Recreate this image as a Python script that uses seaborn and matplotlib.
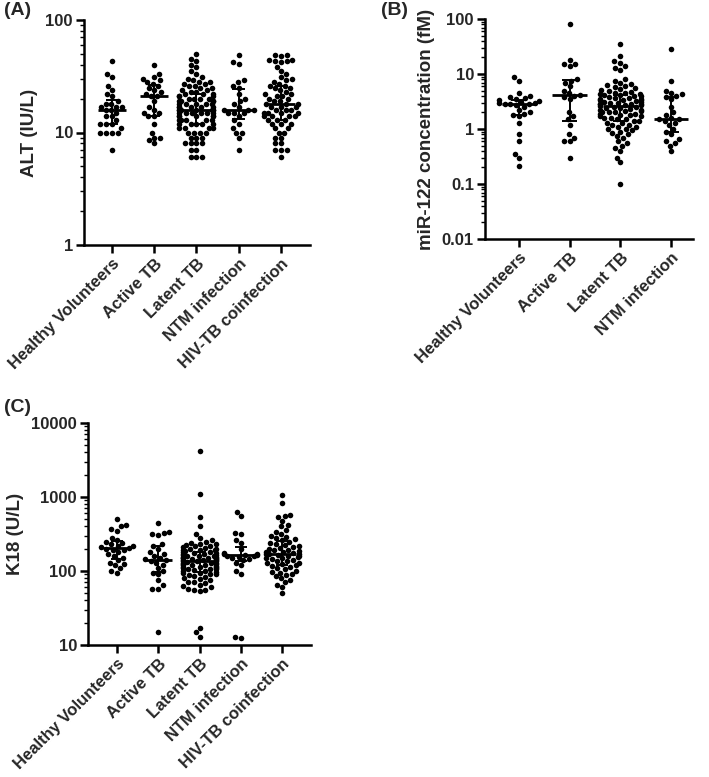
import numpy as np
import pandas as pd
import matplotlib
matplotlib.use("Agg")
import matplotlib.pyplot as plt
import matplotlib.ticker as mticker
import seaborn as sns

sns.set_style("ticks")
plt.rcParams['font.family'] = ['Liberation Sans', 'DejaVu Sans']
plt.rcParams['font.weight'] = 'bold'

groups5 = ["Healthy Volunteers", "Active TB", "Latent TB", "NTM infection", "HIV-TB coinfection"]
groups4 = groups5[:4]

# ---- Panel A: ALT (IU/L)
alt_hv = [43, 33, 31, 26, 24, 22, 21, 19, 18, 18, 17, 17, 17, 16, 16, 15, 14, 14, 13, 12, 12, 12, 11, 10, 10, 10, 10, 7]
alt_active = [40, 33, 31, 30, 29, 28, 27, 26, 25, 24, 23, 22, 21, 21, 19, 17, 16, 15, 15, 14, 14, 12, 10, 9, 9, 8.5, 8]
alt_latent = [50, 45, 43, 40, 38, 35, 33, 31, 30, 29, 28, 28, 27, 27, 26, 26, 25, 25, 24, 24, 23, 23, 22, 22, 22,
              21, 21, 21, 20, 20, 20, 20, 19, 19, 19, 19, 18, 18, 18, 18, 18, 17, 17, 17, 17, 17, 16, 16, 16, 16,
              16, 16, 16, 15, 15, 15, 15, 15, 15, 14, 14, 14, 14, 14, 13, 13, 13, 13, 13, 12, 12, 12, 12, 12, 11,
              11, 11, 11, 10, 10, 10, 10, 9, 9, 9, 8, 8, 8, 8, 7, 7, 6, 6, 6]
alt_ntm = [49, 42, 41, 29, 28, 26, 25, 22, 20, 19, 18, 17, 16, 16, 16, 15, 15, 15, 14, 13, 12, 11, 10, 10, 9, 7]
alt_hiv = [49, 49, 48, 44, 44, 43, 43, 42, 38, 35, 33, 31, 30, 29, 28, 27, 26, 26, 25, 25, 24, 23, 22, 22, 21, 21,
           20, 20, 19, 19, 18, 18, 18, 17, 17, 17, 16, 16, 16, 15, 15, 15, 15, 14, 14, 14, 14, 13, 13, 13, 12, 12,
           12, 11, 11, 10, 10, 9, 9, 8, 8, 7, 7, 7, 6]

# ---- Panel B: miR-122 (fM)
mir_hv = [8.7, 7.5, 4.5, 4.0, 3.8, 3.7, 3.5, 3.3, 3.2, 3.1, 3.0, 3.0, 2.9, 2.8, 2.8, 2.7, 2.5, 2.2, 2.0, 1.9, 1.8,
          1.7, 1.3, 0.8, 0.6, 0.35, 0.3, 0.21]
mir_active = [80, 18, 15, 15, 14, 8, 7.5, 7, 6, 5, 4.5, 4.2, 4, 3.8, 3.5, 2, 1.7, 1.5, 1.2, 0.8, 0.7, 0.6, 0.6, 0.3]
mir_latent = [35, 21, 17, 16, 14, 13, 12, 8, 7.5, 7, 6.5, 6.2, 6, 5.8, 5.5, 5.3, 5.1, 5, 4.8, 4.6, 4.5, 4.4, 4.3,
              4.2, 4.1, 4, 3.9, 3.8, 3.7, 3.6, 3.5, 3.5, 3.4, 3.3, 3.3, 3.2, 3.1, 3.1, 3, 3, 2.9, 2.9, 2.8, 2.8,
              2.7, 2.7, 2.6, 2.5, 2.5, 2.4, 2.4, 2.3, 2.2, 2.2, 2.1, 2.1, 2, 2, 2, 1.9, 1.9, 1.8, 1.8, 1.7, 1.7,
              1.6, 1.6, 1.5, 1.5, 1.4, 1.4, 1.3, 1.3, 1.2, 1.2, 1.1, 1.1, 1.0, 1.0, 0.95, 0.9, 0.85, 0.8, 0.75,
              0.7, 0.6, 0.55, 0.5, 0.45, 0.4, 0.3, 0.25, 0.1]
mir_ntm = [28, 7.5, 5, 4.5, 4.3, 4, 3.8, 3.5, 2.5, 2, 1.8, 1.6, 1.5, 1.5, 1.4, 1.3, 1.2, 1.0, 0.9, 0.8, 0.65, 0.6,
           0.55, 0.5, 0.4]

# ---- Panel C: K18 (U/L)
k18_hv = [500, 420, 400, 370, 350, 280, 260, 250, 240, 230, 220, 215, 210, 205, 200, 195, 190, 180, 170, 160, 150,
          140, 130, 125, 120, 110, 100, 95]
k18_active = [440, 340, 330, 320, 310, 230, 220, 200, 180, 170, 160, 150, 145, 140, 135, 130, 120, 110, 100, 95,
              90, 75, 65, 58, 58, 15]
k18_latent = [4200, 1100, 530, 400, 320, 280, 260, 250, 240, 235, 230, 225, 220, 215, 210, 205, 200, 200, 195,
              190, 190, 185, 180, 180, 175, 175, 170, 170, 165, 165, 160, 160, 158, 155, 155, 152, 150, 150, 148,
              145, 145, 142, 140, 140, 138, 135, 135, 132, 130, 130, 128, 125, 125, 122, 120, 120, 118, 115, 115,
              112, 110, 110, 108, 105, 105, 102, 100, 100, 98, 95, 95, 92, 90, 88, 85, 82, 80, 78, 75, 72, 70,
              68, 65, 62, 60, 58, 56, 55, 54, 17, 15, 13]
k18_ntm = [620, 550, 330, 320, 260, 240, 200, 175, 170, 170, 165, 165, 160, 160, 155, 150, 145, 140, 130, 120,
           100, 92, 13, 12.5]
k18_hiv = [1050, 830, 580, 560, 540, 480, 420, 400, 360, 340, 320, 300, 290, 280, 270, 260, 250, 240, 230, 225,
           220, 210, 205, 200, 195, 190, 185, 180, 178, 175, 172, 170, 168, 165, 160, 158, 155, 150, 148, 145, 140,
           138, 135, 130, 128, 125, 120, 118, 115, 110, 105, 100, 98, 95, 90, 88, 85, 80, 75, 70, 65, 60, 50]


def make_df(groups, series):
    rows = []
    for g, vals in zip(groups, series):
        for v in vals:
            rows.append((g, v))
    return pd.DataFrame(rows, columns=["group", "value"])


def panel(fig, rect, groups, series, ylabel, yticks, ylim, xlim, letter, letter_pos):
    ax = fig.add_axes(rect)
    df = make_df(groups, series)
    sns.swarmplot(data=df, x="group", y="value", order=groups, ax=ax, color="black",
                  size=4.0, log_scale=True, linewidth=0)
    for i, vals in enumerate(series):
        q1, med, q3 = np.percentile(vals, [25, 50, 75])
        ax.hlines(med, i - 0.34, i + 0.34, color="black", lw=2.0, zorder=5)
        ax.vlines(i, q1, q3, color="black", lw=1.4, zorder=5)
        ax.hlines([q1, q3], i - 0.15, i + 0.15, color="black", lw=1.4, zorder=5)
    ax.set_yscale("log")
    ax.set_ylim(*ylim)
    ax.set_xlim(*xlim)
    ax.yaxis.set_major_locator(mticker.FixedLocator(yticks))
    ax.yaxis.set_major_formatter(mticker.FixedFormatter([("%g" % t) for t in yticks]))
    ax.yaxis.set_minor_locator(mticker.LogLocator(base=10, subs=np.arange(2, 10)))
    ax.yaxis.set_minor_formatter(mticker.NullFormatter())
    ax.set_xlabel("")
    ax.set_ylabel(ylabel, fontsize=13.5, fontweight="bold", labelpad=5)
    ax.set_xticks(range(len(groups)))
    ax.set_xticklabels(groups, rotation=45, ha="right", rotation_mode="anchor",
                       fontsize=12, fontweight="bold")
    for lab in ax.get_yticklabels():
        lab.set_fontweight("bold")
        lab.set_fontsize(12)
    ax.tick_params(axis="both", which="major", width=1.8, length=6, color="black", pad=2)
    ax.tick_params(axis="y", which="minor", width=1.0, length=3, color="black")
    sns.despine(ax=ax)
    for s in ("left", "bottom"):
        ax.spines[s].set_linewidth(1.8)
        ax.spines[s].set_color("black")
    fig.text(letter_pos[0], letter_pos[1], letter, fontsize=14, fontweight="bold", ha="left", va="top")
    return ax


W, H = 709, 777
fig = plt.figure(figsize=(W / 100, H / 100), dpi=100)


def rect(l, t, r, b):
    return [l / W, 1 - b / H, (r - l) / W, (b - t) / H]


panel(fig, rect(84, 20, 310, 245), groups5,
      [alt_hv, alt_active, alt_latent, alt_ntm, alt_hiv],
      "ALT (IU/L)", [1, 10, 100], (1, 100), (-0.66, 4.69), "(A)", (4 / W, 1 - 2 / H))
panel(fig, rect(485, 19, 693, 239), groups4,
      [mir_hv, mir_active, mir_latent, mir_ntm],
      "miR-122 concentration (fM)", [0.01, 0.1, 1, 10, 100], (0.01, 100), (-0.67, 3.43), "(B)",
      (381 / W, 1 - 2 / H))
panel(fig, rect(88, 423, 311, 645), groups5,
      [k18_hv, k18_active, k18_latent, k18_ntm, k18_hiv],
      "K18 (U/L)", [10, 100, 1000, 10000], (10, 10000), (-0.7, 4.7), "(C)", (4 / W, 1 - 399 / H))

fig.savefig("out.png", dpi=100)
